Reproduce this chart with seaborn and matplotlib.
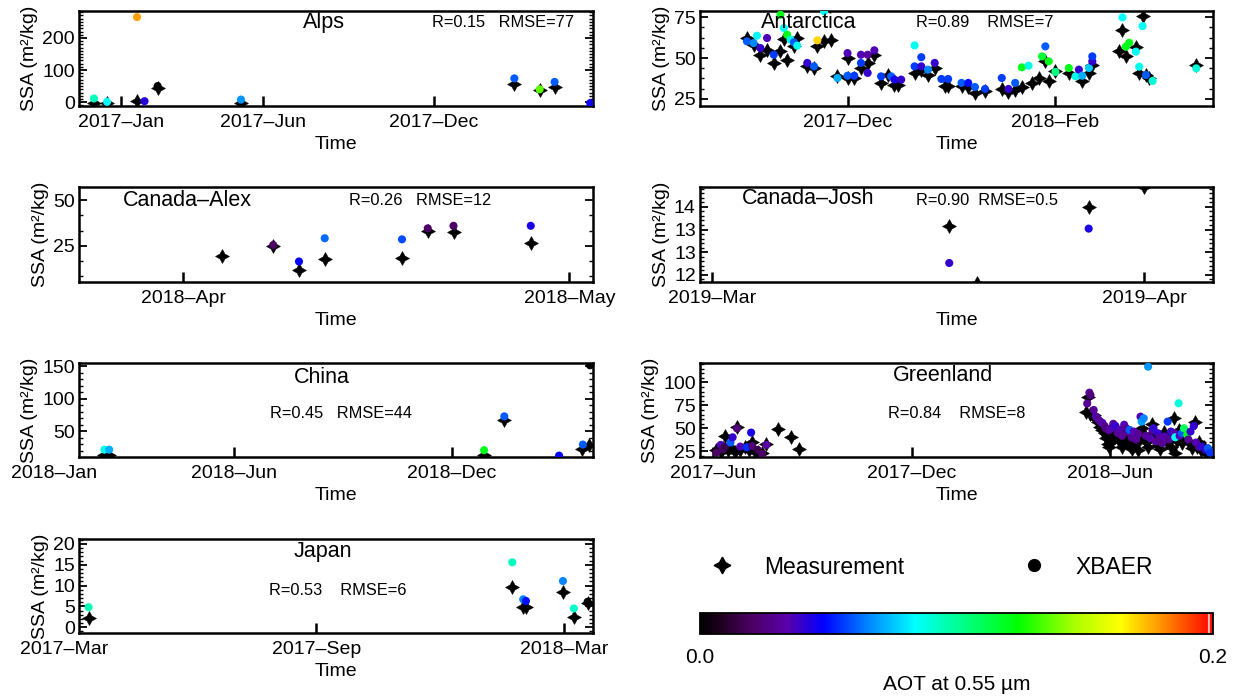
import numpy as np
import pandas as pd
import matplotlib
matplotlib.use("Agg")
import matplotlib.pyplot as plt
from matplotlib.colors import LinearSegmentedColormap, Normalize
from matplotlib.cm import ScalarMappable
from matplotlib.ticker import AutoMinorLocator, FixedLocator, NullLocator
from matplotlib.lines import Line2D
import seaborn as sns

# ---------------------------------------------------------------- data
# Alps
alps_meas_dates = ["2016-12-03", "2016-12-17", "2017-01-18", "2017-02-09", "2017-05-09",
                   "2018-02-25", "2018-03-24", "2018-04-09"]
alps_meas_ssa = [-3, -3, 4, 43, -3, 58, 37.5, 46]
alps_xb_dates = ["2016-12-03", "2016-12-17", "2017-01-18", "2017-01-26", "2017-02-09", "2017-05-09",
                 "2018-02-25", "2018-03-24", "2018-04-09", "2018-05-17"]
alps_xb_ssa = [11.5, 1, 265, 3, 50, 8, 74, 40, 63, -3]
alps_xb_aot = [0.094, 0.084, 0.178, 0.042, 0.0, 0.068, 0.06, 0.136, 0.06, 0.046]

# Antarctica
ant_meas_dates = ["2017-11-01", "2017-11-03", "2017-11-05", "2017-11-07", "2017-11-09", "2017-11-11",
                  "2017-11-12", "2017-11-13", "2017-11-15", "2017-11-16", "2017-11-19", "2017-11-21",
                  "2017-11-22", "2017-11-24", "2017-11-26", "2017-11-28", "2017-12-01", "2017-12-01",
                  "2017-12-03", "2017-12-05", "2017-12-07", "2017-12-09", "2017-12-11", "2017-12-13",
                  "2017-12-15", "2017-12-16", "2017-12-21", "2017-12-23", "2017-12-25", "2017-12-27",
                  "2017-12-30", "2017-12-31", "2018-01-04", "2018-01-06", "2018-01-08", "2018-01-11",
                  "2018-01-16", "2018-01-18", "2018-01-20", "2018-01-22", "2018-01-25", "2018-01-27",
                  "2018-01-29", "2018-01-30", "2018-02-01", "2018-02-05", "2018-02-09", "2018-02-11",
                  "2018-02-12", "2018-02-20", "2018-02-21", "2018-02-22", "2018-02-25", "2018-02-26",
                  "2018-02-27", "2018-02-28", "2018-03-01", "2018-03-15"]
ant_meas_ssa = [62.2, 58.1, 51.6, 55.1, 47.0, 54.1, 61.8, 49.0, 57.1, 62.2, 44.9, 43.9,
                57.1, 60.2, 60.8, 38.8, 50.0, 37.8, 37.8, 43.9, 47.0, 52.0, 34.8, 39.8,
                33.7, 33.7, 40.9, 42.9, 39.8, 43.9, 33.1, 33.1, 33.1, 32.3, 28.7, 29.7,
                31.1, 29.1, 30.7, 32.3, 34.8, 37.8, 48.0, 35.8, 41.9, 40.9, 35.8, 40.9,
                45.9, 54.5, 67.1, 51.2, 56.9, 41.0, 75.6, 39.5, 37.6, 45.7]
ant_xb_dates = ["2017-11-01", "2017-11-03", "2017-11-04", "2017-11-05", "2017-11-07", "2017-11-09",
                "2017-11-11", "2017-11-12", "2017-11-13", "2017-11-14", "2017-11-15", "2017-11-16",
                "2017-11-19", "2017-11-21", "2017-11-22", "2017-11-24", "2017-11-28", "2017-12-01",
                "2017-12-01", "2017-12-03", "2017-12-05", "2017-12-05", "2017-12-07", "2017-12-07",
                "2017-12-09", "2017-12-11", "2017-12-14", "2017-12-15", "2017-12-17", "2017-12-21",
                "2017-12-21", "2017-12-23", "2017-12-23", "2017-12-25", "2017-12-27", "2017-12-29",
                "2017-12-31", "2018-01-04", "2018-01-06", "2018-01-08", "2018-01-11", "2018-01-16",
                "2018-01-18", "2018-01-20", "2018-01-22", "2018-01-24", "2018-01-28", "2018-01-29",
                "2018-01-30", "2018-02-01", "2018-02-05", "2018-02-07", "2018-02-08", "2018-02-09",
                "2018-02-11", "2018-02-12", "2018-02-12", "2018-02-21", "2018-02-22", "2018-02-23",
                "2018-02-25", "2018-02-26", "2018-02-27", "2018-02-28", "2018-03-02", "2018-03-15"]
ant_xb_ssa = [60.2, 59.1, 63.6, 56.1, 62.2, 52.0, 76.4, 68.3, 64.2, 61.2, 59.6, 57.5,
              47.0, 44.9, 60.8, 78.5, 37.8, 53.0, 39.2, 39.2, 52.0, 47.0, 52.0, 40.9,
              54.7, 38.8, 38.8, 36.8, 36.8, 57.7, 44.9, 50.5, 44.9, 42.9, 47.0, 37.2,
              37.2, 34.8, 34.8, 32.3, 31.1, 37.8, 31.1, 34.8, 44.3, 45.3, 51.0, 57.1,
              48.0, 41.5, 43.9, 38.8, 42.9, 39.2, 43.9, 48.0, 51.0, 74.8, 56.9, 59.3,
              53.9, 44.7, 69.5, 39.6, 36.0, 43.7]
ant_xb_aot = [0.06, 0.066, 0.084, 0.04, 0.036, 0.056, 0.12, 0.084, 0.12, 0.088, 0.06, 0.086,
              0.04, 0.06, 0.17, 0.086, 0.072, 0.036, 0.06, 0.056, 0.036, 0.056, 0.032, 0.04,
              0.036, 0.056, 0.06, 0.044, 0.04, 0.086, 0.056, 0.056, 0.04, 0.066, 0.04, 0.056,
              0.056, 0.06, 0.05, 0.06, 0.056, 0.056, 0.04, 0.06, 0.12, 0.088, 0.116, 0.06,
              0.12, 0.104, 0.12, 0.088, 0.04, 0.072, 0.076, 0.04, 0.056, 0.084, 0.12, 0.12,
              0.086, 0.086, 0.086, 0.06, 0.09, 0.09]

# Canada-Alex
alex_meas_dates = ["2018-04-04", "2018-04-08", "2018-04-10", "2018-04-12", "2018-04-18",
                   "2018-04-20", "2018-04-22", "2018-04-28"]
alex_meas_ssa = [19.7, 25.2, 11.6, 17.8, 18.3, 33.2, 32.4, 26.8]
alex_xb_dates = ["2018-04-08", "2018-04-10", "2018-04-12", "2018-04-18", "2018-04-20",
                 "2018-04-22", "2018-04-28"]
alex_xb_ssa = [25.5, 16.5, 29.2, 28.6, 34.6, 36.0, 36.0]
alex_xb_aot = [0.02, 0.048, 0.062, 0.058, 0.02, 0.02, 0.044]

# Canada-Josh
josh_meas_dates = ["2019-03-18", "2019-03-20", "2019-03-28", "2019-04-01"]
josh_meas_ssa = [13.08, 11.82, 13.5, 13.95]
josh_xb_dates = ["2019-03-18", "2019-03-28"]
josh_xb_ssa = [12.26, 13.02]
josh_xb_aot = [0.04, 0.044]

# China
china_meas_dates = ["2018-02-12", "2018-02-16", "2018-12-28", "2019-01-14", "2019-03-20", "2019-03-26"]
china_meas_ssa = [14, 14, 14, 66.7, 23.4, 29]
china_xb_dates = ["2018-02-12", "2018-02-16", "2018-12-28", "2019-01-14", "2019-03-01",
                  "2019-03-21", "2019-03-27"]
china_xb_ssa = [21.8, 21.8, 21, 73, 12.6, 29.6, 151.5]
china_xb_aot = [0.088, 0.072, 0.12, 0.06, 0.048, 0.06, 0.0]

# Greenland
gr_meas_dates = ["2017-06-04", "2017-06-08", "2017-06-10", "2017-06-12", "2017-06-15", "2017-06-17",
                 "2017-06-21", "2017-06-23", "2017-06-26", "2017-06-30", "2017-07-04", "2017-07-07",
                 "2017-07-10", "2017-07-12", "2017-07-16", "2017-07-20", "2017-07-31", "2017-08-12",
                 "2017-08-19",
                 "2018-05-10", "2018-05-12", "2018-05-14", "2018-05-17", "2018-05-19", "2018-05-21",
                 "2018-05-23", "2018-05-25", "2018-05-27", "2018-05-28", "2018-05-30", "2018-05-31",
                 "2018-06-02", "2018-06-04", "2018-06-06", "2018-06-08", "2018-06-10", "2018-06-12",
                 "2018-06-13", "2018-06-15", "2018-06-16", "2018-06-18", "2018-06-19", "2018-06-21",
                 "2018-06-23", "2018-06-25", "2018-06-27", "2018-06-29", "2018-06-30", "2018-07-02",
                 "2018-07-04", "2018-07-06", "2018-07-08", "2018-07-10", "2018-07-11", "2018-07-13",
                 "2018-07-15", "2018-07-17", "2018-07-19", "2018-07-21", "2018-07-23", "2018-07-25",
                 "2018-07-27", "2018-07-30", "2018-07-31", "2018-08-02", "2018-08-03", "2018-08-06",
                 "2018-08-08", "2018-08-09", "2018-08-12", "2018-08-15", "2018-08-18", "2018-08-20",
                 "2018-08-22", "2018-08-24", "2018-08-26", "2018-08-28", "2018-08-30", "2018-09-01"]
gr_meas_ssa = [26.7, 24.9, 28.5, 41.9, 26.7, 29.5, 24.9, 51.3, 26.7, 30.3, 26.7, 35.7,
               24.9, 24.9, 23.1, 32.9, 49.1, 41.2, 27.4,
               68.2, 84.5, 66.0, 64.6, 60.0, 57.4, 52.0, 48.4, 45.0, 39.4, 33.0, 30.3,
               35.7, 45.0, 43.0, 38.0, 37.5, 30.0, 33.9, 42.0, 48.4, 36.0, 31.0, 28.0,
               41.2, 35.0, 26.7, 38.0, 50.2, 44.0, 35.7, 30.0, 40.4, 55.0, 44.8, 38.0,
               32.1, 28.0, 37.5, 46.6, 35.0, 40.4, 30.0, 61.0, 23.1, 36.0, 48.4, 33.9,
               40.0, 44.8, 36.0, 28.5, 57.4, 30.3, 35.0, 26.7, 30.0, 23.1, 25.0, 21.3]
gr_xb_dates = ["2017-06-04", "2017-06-08", "2017-06-10", "2017-06-12", "2017-06-17", "2017-06-19",
               "2017-06-23", "2017-06-26", "2017-07-02", "2017-07-06", "2017-07-07", "2017-07-12",
               "2017-07-16", "2017-07-20",
               "2018-05-11", "2018-05-13", "2018-05-14", "2018-05-17", "2018-05-19", "2018-05-21",
               "2018-05-23", "2018-05-25", "2018-05-27", "2018-05-28", "2018-05-31", "2018-06-02",
               "2018-06-04", "2018-06-06", "2018-06-08", "2018-06-10", "2018-06-12", "2018-06-14",
               "2018-06-16", "2018-06-18", "2018-06-19", "2018-06-21", "2018-06-23", "2018-06-25",
               "2018-06-27", "2018-06-29", "2018-06-30", "2018-07-02", "2018-07-04", "2018-07-06",
               "2018-07-08", "2018-07-10", "2018-07-11", "2018-07-13", "2018-07-15", "2018-07-17",
               "2018-07-19", "2018-07-21", "2018-07-24", "2018-07-25", "2018-07-27", "2018-07-30",
               "2018-07-31", "2018-08-03", "2018-08-04", "2018-08-06", "2018-08-08", "2018-08-11",
               "2018-08-12", "2018-08-14", "2018-08-17", "2018-08-19", "2018-08-22", "2018-08-24",
               "2018-08-28", "2018-08-30", "2018-09-01"]
gr_xb_ssa = [23.8, 32.1, 27.4, 30.0, 34.7, 40.4, 50.0, 30.3, 29.5, 45.5, 31.0, 26.7,
             22.5, 32.1,
             77.0, 88.8, 86.0, 70.0, 62.8, 60.0, 57.4, 56.0, 52.7, 50.0, 48.0, 50.2,
             55.0, 52.7, 45.0, 48.4, 42.0, 54.0, 50.0, 46.0, 48.4, 40.0, 46.6, 38.0,
             44.0, 62.8, 57.4, 61.0, 42.0, 117.0, 39.4, 48.0, 50.2, 36.0, 44.8, 40.0,
             34.0, 41.2, 57.4, 38.0, 46.6, 45.0, 40.4, 77.3, 42.0, 44.8, 50.2, 43.0,
             38.0, 46.6, 52.7, 34.7, 30.0, 30.3, 26.7, 28.5, 23.8]
gr_xb_aot = [0.02, 0.036, 0.02, 0.016, 0.06, 0.04, 0.024, 0.036, 0.054, 0.044, 0.024, 0.016,
             0.02, 0.032,
             0.03, 0.03, 0.025, 0.03, 0.035, 0.03, 0.03, 0.035, 0.03, 0.025, 0.03, 0.035,
             0.03, 0.04, 0.03, 0.035, 0.03, 0.035, 0.03, 0.03, 0.06, 0.03, 0.035, 0.03,
             0.03, 0.036, 0.07, 0.066, 0.03, 0.068, 0.035, 0.03, 0.04, 0.03, 0.04, 0.03,
             0.03, 0.035, 0.056, 0.03, 0.04, 0.035, 0.084, 0.09, 0.035, 0.06, 0.11, 0.12,
             0.03, 0.04, 0.04, 0.035, 0.03, 0.04, 0.04, 0.06, 0.055]

# Japan
jp_meas_dates = ["2017-03-19", "2018-01-22", "2018-01-30", "2018-02-01", "2018-02-28", "2018-03-08",
                 "2018-03-18"]
jp_meas_ssa = [2.1, 9.7, 4.8, 4.8, 8.5, 2.5, 5.7]
jp_xb_dates = ["2017-03-19", "2018-01-22", "2018-01-30", "2018-02-01", "2018-02-28", "2018-03-08",
               "2018-03-18"]
jp_xb_ssa = [4.8, 15.6, 6.7, 6.3, 11.1, 4.5, 6.1]
jp_xb_aot = [0.096, 0.094, 0.066, 0.05, 0.066, 0.092, 0.0]

# axis ticks / labels
alps_xticks = ["2017-01-01", "2017-06-01", "2017-12-01"]
alps_xticklabels = ["2017–Jan", "2017–Jun", "2017–Dec"]
ant_xticks = ["2017-12-01", "2018-02-01"]
ant_xticklabels = ["2017–Dec", "2018–Feb"]
alex_xticks = ["2018-04-01", "2018-05-01"]
alex_xticklabels = ["2018–Apr", "2018–May"]
josh_xticks = ["2019-03-01", "2019-04-01"]
josh_xticklabels = ["2019–Mar", "2019–Apr"]
china_xticks = ["2018-01-01", "2018-06-01", "2018-12-01"]
china_xticklabels = ["2018–Jan", "2018–Jun", "2018–Dec"]
gr_xticks = ["2017-06-01", "2017-12-01", "2018-06-01"]
gr_xticklabels = ["2017–Jun", "2017–Dec", "2018–Jun"]
jp_xticks = ["2017-03-01", "2017-09-01", "2018-03-01"]
jp_xticklabels = ["2017–Mar", "2017–Sep", "2018–Mar"]

alps_yticks, alps_yticklabels = [0, 100, 200], ["0", "100", "200"]
ant_yticks, ant_yticklabels = [25, 50, 75], ["25", "50", "75"]
alex_yticks, alex_yticklabels = [25, 50], ["25", "50"]
josh_yticks, josh_yticklabels = [12.0, 12.5, 13.0, 13.5], ["12", "13", "13", "14"]
china_yticks, china_yticklabels = [50, 100, 150], ["50", "100", "150"]
gr_yticks, gr_yticklabels = [25, 50, 75, 100], ["25", "50", "75", "100"]
jp_yticks, jp_yticklabels = [0, 5, 10, 15, 20], ["0", "5", "10", "15", "20"]

stats_text = {
    "Alps": "R=0.15   RMSE=77",
    "Antarctica": "R=0.89    RMSE=7",
    "Canada–Alex": "R=0.26   RMSE=12",
    "Canada–Josh": "R=0.90  RMSE=0.5",
    "China": "R=0.45   RMSE=44",
    "Greenland": "R=0.84    RMSE=8",
    "Japan": "R=0.53    RMSE=6",
}

aot_range = (0.0, 0.2)
aot_ticks, aot_ticklabels = [0.0, 0.2], ["0.0", "0.2"]

# ---------------------------------------------------------------- style
sns.set_theme(style="white", rc={"axes.edgecolor": "black", "text.color": "black",
                                 "xtick.color": "black", "ytick.color": "black",
                                 "axes.labelcolor": "black"})
plt.rcParams["font.family"] = ["Liberation Sans", "DejaVu Sans"]

cmap_nodes = [0.0, 0.04, 0.1, 0.17, 0.24, 0.33, 0.42, 0.48, 0.62, 0.73, 0.82, 0.89, 0.99, 0.993, 0.996, 1.0]
cmap_colors = ["#000000", "#1e001e", "#4b0064", "#5a00aa", "#0000ff", "#0088ff", "#00ffff", "#00ffb0",
               "#00ff00", "#aaff00", "#ffff00", "#ffa000", "#ff1000", "#ffffff", "#ff1000", "#ff1000"]
cmap = LinearSegmentedColormap.from_list("idl_rainbow_white", list(zip(cmap_nodes, cmap_colors)), N=1024)

W, H = 1246, 697
fig = plt.figure(figsize=(W / 100, H / 100), dpi=100)

cols = [(79, 593), (700, 1213)]
rows = [(11, 106), (187, 282), (363, 457), (539, 633)]


def rect(col, row):
    x0, x1 = cols[col]
    y0, y1 = rows[row]
    return [x0 / W, 1 - y1 / H, (x1 - x0) / W, (y1 - y0) / H]


panels = [
    dict(name="Alps", cr=(0, 0), md=alps_meas_dates, mv=alps_meas_ssa, xd=alps_xb_dates, xv=alps_xb_ssa,
         xa=alps_xb_aot, xlim=("2016-11-17", "2018-05-20"), ylim=(-12, 284), xt=alps_xticks,
         xtl=alps_xticklabels, yt=alps_yticks, ytl=alps_yticklabels, minor=10,
         tpos=(0.477, 0.874), spos=(0.687, 0.874)),
    dict(name="Antarctica", cr=(1, 0), md=ant_meas_dates, mv=ant_meas_ssa, xd=ant_xb_dates, xv=ant_xb_ssa,
         xa=ant_xb_aot, xlim=("2017-10-18", "2018-03-20"), ylim=(20.7, 78.7), xt=ant_xticks,
         xtl=ant_xticklabels, yt=ant_yticks, ytl=ant_yticklabels, minor=4,
         tpos=(0.211, 0.874), spos=(0.421, 0.874)),
    dict(name="Canada–Alex", cr=(0, 1), md=alex_meas_dates, mv=alex_meas_ssa, xd=alex_xb_dates,
         xv=alex_xb_ssa, xa=alex_xb_aot, xlim=("2018-03-23 22:00", "2018-05-02 20:00"), ylim=(5.3, 57.2),
         xt=alex_xticks, xtl=alex_xticklabels, yt=alex_yticks, ytl=alex_yticklabels, minor=3,
         tpos=(0.21, 0.863), spos=(0.525, 0.863)),
    dict(name="Canada–Josh", cr=(1, 1), md=josh_meas_dates, mv=josh_meas_ssa, xd=josh_xb_dates,
         xv=josh_xb_ssa, xa=josh_xb_aot, xlim=("2019-02-28 03:00", "2019-04-05 22:00"), ylim=(11.84, 13.94),
         xt=josh_xticks, xtl=josh_xticklabels, yt=josh_yticks, ytl=josh_yticklabels, minor=5,
         tpos=(0.211, 0.884), spos=(0.421, 0.863)),
    dict(name="China", cr=(0, 2), md=china_meas_dates, mv=china_meas_ssa, xd=china_xb_dates,
         xv=china_xb_ssa, xa=china_xb_aot, xlim=("2018-01-21 16:00", "2019-03-29 12:00"), ylim=(10.5, 155),
         xt=china_xticks, xtl=china_xticklabels, yt=china_yticks, ytl=china_yticklabels, minor=5,
         tpos=(0.473, 0.851), spos=(0.372, 0.468)),
    dict(name="Greenland", cr=(1, 2), md=gr_meas_dates, mv=gr_meas_ssa, xd=gr_xb_dates, xv=gr_xb_ssa,
         xa=gr_xb_aot, xlim=("2017-05-20", "2018-09-03 16:00"), ylim=(19, 121), xt=gr_xticks,
         xtl=gr_xticklabels, yt=gr_yticks, ytl=gr_yticklabels, minor=5,
         tpos=(0.474, 0.862), spos=(0.366, 0.468)),
    dict(name="Japan", cr=(0, 3), md=jp_meas_dates, mv=jp_meas_ssa, xd=jp_xb_dates, xv=jp_xb_ssa,
         xa=jp_xb_aot, xlim=("2017-03-12", "2018-03-21 22:00"), ylim=(-1.4, 21.2), xt=jp_xticks,
         xtl=jp_xticklabels, yt=jp_yticks, ytl=jp_yticklabels, minor=5,
         tpos=(0.475, 0.862), spos=(0.37, 0.447)),
]

TICK_FS = 14
XPAD = 5.5

for p in panels:
    ax = fig.add_axes(rect(*p["cr"]))
    sns.scatterplot(x=pd.to_datetime(p["md"]), y=p["mv"], ax=ax, marker=(4, 1, 0), color="black",
                    s=100, edgecolor="black", linewidth=0.4, legend=False, zorder=2)
    sns.scatterplot(x=pd.to_datetime(p["xd"]), y=p["xv"], hue=p["xa"], hue_norm=aot_range, palette=cmap,
                    ax=ax, s=34, edgecolor="none", linewidth=0, legend=False, zorder=3)
    xlo, xhi = pd.Timestamp(p["xlim"][0]), pd.Timestamp(p["xlim"][1])
    ax.set_xlim(xlo, xhi)
    ax.set_ylim(*p["ylim"])

    inside = [(pd.Timestamp(t), l) for t, l in zip(p["xt"], p["xtl"]) if xlo <= pd.Timestamp(t) <= xhi]
    outside = [(pd.Timestamp(t), l) for t, l in zip(p["xt"], p["xtl"]) if not (xlo <= pd.Timestamp(t) <= xhi)]
    ax.set_xticks([t for t, _ in inside])
    ax.set_xticklabels([l for _, l in inside])
    for t, l in outside:
        ax.annotate(l, xy=(t, 0), xycoords=("data", "axes fraction"), xytext=(0, -XPAD),
                    textcoords="offset points", ha="center", va="top", fontsize=TICK_FS,
                    annotation_clip=False)
    ax.xaxis.set_minor_locator(NullLocator())

    ax.yaxis.set_major_locator(FixedLocator(p["yt"]))
    ax.set_yticklabels(p["ytl"])
    ax.yaxis.set_minor_locator(AutoMinorLocator(p["minor"]))

    ax.tick_params(axis="x", which="major", direction="in", length=7, width=1.8, bottom=True,
                   top=False, labelsize=TICK_FS, pad=XPAD)
    ax.tick_params(axis="y", which="major", direction="in", length=6, width=1.3, left=True,
                   right=True, labelsize=TICK_FS, pad=3)
    ax.tick_params(axis="y", which="minor", direction="in", length=3, width=1.0, left=True, right=True)
    for sp in ax.spines.values():
        sp.set_linewidth(1.8)
        sp.set_color("black")

    ax.set_xlabel("Time", fontsize=14, labelpad=4)
    ax.set_ylabel("SSA (m²/kg)", fontsize=14, labelpad=3)
    ax.text(p["tpos"][0], p["tpos"][1], p["name"], transform=ax.transAxes, ha="center", va="center",
            fontsize=15.5)
    ax.text(p["spos"][0], p["spos"][1], stats_text[p["name"]], transform=ax.transAxes, ha="left",
            va="center", fontsize=11.8)

# legend
handles = [Line2D([], [], marker=(4, 1, 0), color="black", linestyle="none", markersize=12,
                  label="Measurement"),
           Line2D([], [], marker="o", color="black", linestyle="none", markersize=8.5, label="XBAER")]
fig.legend(handles=handles, loc="center left", bbox_to_anchor=(711 / W, 1 - 567 / H), ncol=2,
           frameon=False, fontsize=16.5, handlelength=1.0, handletextpad=1.3, columnspacing=5.2,
           borderpad=0, borderaxespad=0)

# colorbar
cax = fig.add_axes([700 / W, 1 - 634 / H, 513 / W, 21 / H])
sm = ScalarMappable(norm=Normalize(*aot_range), cmap=cmap)
cb = fig.colorbar(sm, cax=cax, orientation="horizontal")
cb.set_ticks(aot_ticks)
cb.set_ticklabels(aot_ticklabels)
cb.ax.tick_params(length=0, labelsize=15, pad=10)
cb.outline.set_linewidth(1.3)
cb.set_label("AOT at 0.55 µm", fontsize=15, labelpad=6)

fig.savefig("out.png", dpi=100)
